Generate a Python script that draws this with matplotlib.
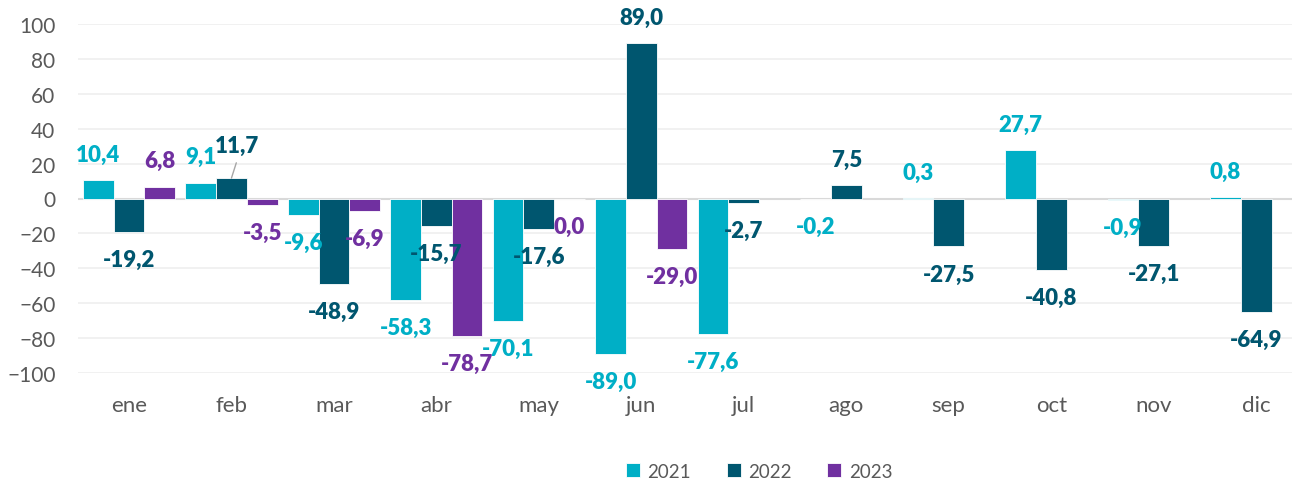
import numpy as np
import matplotlib
matplotlib.use("Agg")
from matplotlib import pyplot as plt
from matplotlib import font_manager

plt.rcParams['font.family'] = ['Lato', 'DejaVu Sans']
print(sorted({(f.name, f.weight) for f in font_manager.fontManager.ttflist if f.name == "Lato"}))

# datos
meses = ["ene", "feb", "mar", "abr", "may", "jun", "jul", "ago", "sep", "oct", "nov", "dic"]
anio_2021 = [10.4, 9.1, -9.6, -58.3, -70.1, -89.0, -77.6, -0.2, 0.3, 27.7, -0.9, 0.8]
anio_2022 = [-19.2, 11.7, -48.9, -15.7, -17.6, 89.0, -2.7, 7.5, -27.5, -40.8, -27.1, -64.9]
anio_2023 = [6.8, -3.5, -6.9, -78.7, 0.0, -29.0]

series = [("2021", anio_2021, "#00AFC6"),
          ("2022", anio_2022, "#00566F"),
          ("2023", anio_2023, "#7030A0")]

fig = plt.figure(figsize=(12.92, 4.81), dpi=100)
ax = fig.add_axes([77.75 / 1292, 1 - 374 / 481, 1 - 77.75 / 1292, (374 - 25) / 481])

ancho = 0.3
x = np.arange(len(meses))
for i, (nombre, valores, color) in enumerate(series):
    pos = x[:len(valores)] + (i - 1) * ancho
    ax.bar(pos, valores, width=ancho, color=color, edgecolor="white", linewidth=0.6,
           label=nombre, zorder=3)
    for xp, v in zip(pos, valores):
        texto = f"{v:.1f}".replace(".", ",")
        if nombre == "2022" and xp == 1:
            # etiqueta desplazada con linea guia
            ax.annotate("", xy=(xp, v), xytext=(3.5, 11), textcoords="offset points",
                        arrowprops=dict(arrowstyle="-", color="#a6a6a6", lw=1,
                                        shrinkA=0, shrinkB=0), zorder=5)
            ax.annotate(texto, xy=(xp, v), xytext=(4, 23.5), textcoords="offset points",
                        ha="center", va="center", fontsize=16, fontweight="heavy", color=color,
                        zorder=5)
            continue
        dy = 18.7 if v > 0 else -19.8
        ax.annotate(texto, xy=(xp, v), xytext=(0, dy), textcoords="offset points",
                    ha="center", va="center", fontsize=16, fontweight="heavy", color=color,
                    zorder=5)

ax.set_ylim(-100, 100)
ax.set_xlim(-0.5, 11.35)
ax.set_yticks(range(-100, 101, 20))
ax.set_xticks(x)
ax.set_xticklabels(meses)
ax.tick_params(axis="both", length=0, labelsize=15, labelcolor="#595959")
ax.tick_params(axis="y", pad=16)
ax.tick_params(axis="x", labelsize=16, pad=16)
for s in ax.spines.values():
    s.set_visible(False)
ax.grid(axis="y", color="#EFEFEF", linewidth=1.2, zorder=0)
ax.axhline(0, color="#D9D9D9", linewidth=1.5, zorder=2)

leg = fig.legend(loc="center", bbox_to_anchor=(759 / 1292, 1 - 472 / 481), ncol=3,
                 frameon=False, fontsize=13.5, handlelength=0.75, handleheight=0.75,
                 handletextpad=0.4, columnspacing=1.9)
for t in leg.get_texts():
    t.set_color("#595959")

plt.savefig("out.png", dpi=100)
